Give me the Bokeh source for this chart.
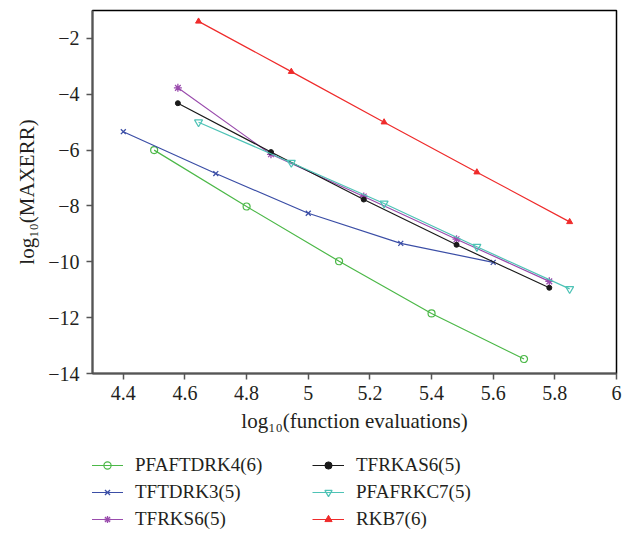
from bokeh.plotting import figure
from bokeh.models import Legend, LegendItem, FixedTicker
from bokeh.layouts import column
from bokeh.embed import file_html
from bokeh.resources import INLINE

# Data (log10 function evaluations, log10 MAXERR)
pfaftdrk4_x = [4.50, 4.80, 5.10, 5.40, 5.70]
pfaftdrk4_y = [-6.00, -8.02, -9.98, -11.85, -13.48]

tftdrk3_x = [4.40, 4.70, 5.00, 5.30, 5.60]
tftdrk3_y = [-5.34, -6.84, -8.26, -9.34, -10.02]

tfrks6_x = [4.577, 4.879, 5.180, 5.481, 5.782]
tfrks6_y = [-3.77, -6.15, -7.66, -9.19, -10.70]

tfrkas6_x = [4.577, 4.879, 5.180, 5.481, 5.782]
tfrkas6_y = [-4.32, -6.07, -7.77, -9.39, -10.93]

pfafrkc7_x = [4.644, 4.945, 5.246, 5.547, 5.848]
pfafrkc7_y = [-5.00, -6.45, -7.91, -9.46, -10.97]

rkb7_x = [4.644, 4.945, 5.246, 5.547, 5.848]
rkb7_y = [-1.39, -3.19, -5.00, -6.79, -8.57]

labels = ["PFAFTDRK4(6)", "TFTDRK3(5)", "TFRKS6(5)", "TFRKAS6(5)", "PFAFRKC7(5)", "RKB7(6)"]
x_ticks = [4.4, 4.6, 4.8, 5.0, 5.2, 5.4, 5.6, 5.8, 6.0]
y_ticks = [-14, -12, -10, -8, -6, -4, -2]

FONT = "Liberation Serif"
TXT = "#231f20"

series = [
    (pfaftdrk4_x, pfaftdrk4_y, "#4cb848", dict(marker="circle", size=7, fill_color=None, line_width=1.2)),
    (tftdrk3_x, tftdrk3_y, "#3b4ea6", dict(marker="x", size=7, line_width=1.3)),
    (tfrks6_x, tfrks6_y, "#9a4cad", dict(marker="asterisk", size=8, line_width=1.3)),
    (tfrkas6_x, tfrkas6_y, "#1a1a1a", dict(marker="circle", size=5, line_width=1)),
    (pfafrkc7_x, pfafrkc7_y, "#4ec3b6", dict(marker="inverted_triangle", size=8, fill_color=None, line_width=1.2)),
    (rkb7_x, rkb7_y, "#ef2b2b", dict(marker="triangle", size=6, line_width=1)),
]


def draw(fig):
    rends = []
    for xs, ys, col, mk in series:
        ln = fig.line(xs, ys, color=col, line_width=1.2)
        kw = dict(mk)
        kw.setdefault("fill_color", col)
        sc = fig.scatter(xs, ys, line_color=col, **kw)
        rends.append([ln, sc])
    return rends


p = figure(frame_width=524, frame_height=363, x_range=(4.3, 6.0), y_range=(-14, -1),
           output_backend="svg", toolbar_location=None,
           min_border_left=92, min_border_top=10, min_border_right=8, min_border_bottom=67)
p.xgrid.visible = False
p.ygrid.visible = False
p.outline_line_color = "black"
p.outline_line_width = 1.5

for ax in (p.xaxis[0], p.yaxis[0]):
    ax.axis_line_color = "#555555"
    ax.axis_line_width = 2
    ax.major_tick_line_color = "#555555"
    ax.major_tick_line_width = 1.5
    ax.major_tick_out = 6
    ax.major_tick_in = 0
    ax.minor_tick_line_color = None
    ax.major_label_text_font = FONT
    ax.major_label_text_font_size = "20px"
    ax.major_label_text_color = TXT
    ax.axis_label_text_font = FONT
    ax.axis_label_text_font_size = "21px"
    ax.axis_label_text_font_style = "normal"
    ax.axis_label_text_color = TXT

p.xaxis.ticker = FixedTicker(ticks=x_ticks)
p.yaxis.ticker = FixedTicker(ticks=y_ticks)
p.xaxis.major_label_overrides = {4.4: "4.4", 4.6: "4.6", 4.8: "4.8", 5.0: "5", 5.2: "5.2",
                                 5.4: "5.4", 5.6: "5.6", 5.8: "5.8", 6.0: "6"}
p.yaxis.major_label_overrides = {v: "\u2212" + str(abs(v)) for v in y_ticks}
p.xaxis.axis_label = "log\u2081\u2080(function evaluations)"
p.yaxis.axis_label = "log\u2081\u2080(MAXERR)"
p.xaxis.major_label_standoff = 6
p.yaxis.major_label_standoff = 7
p.xaxis.axis_label_standoff = 6
p.yaxis.axis_label_standoff = 6

draw(p)

# Legend panel below the chart (same series styles; data lie outside this panel's ranges)
lg = figure(width=624, height=93, x_range=(0, 1), y_range=(0, 1),
            output_backend="svg", toolbar_location=None,
            x_axis_location=None, y_axis_location=None,
            min_border=0, min_border_left=0, min_border_right=0, min_border_top=0, min_border_bottom=0)
lg.outline_line_color = None
lg.xgrid.visible = False
lg.ygrid.visible = False
lr = draw(lg)

items = [LegendItem(label=lab, renderers=r) for lab, r in zip(labels, lr)]
legend = Legend(items=items, nrows=3, orientation="vertical", location=(-1, 3),
                label_text_font=FONT, label_text_font_size="19px", label_text_color=TXT,
                glyph_width=32, glyph_height=18, label_standoff=12, label_width=172,
                label_height=18, spacing=5, padding=0, margin=0,
                border_line_color=None, background_fill_alpha=0)
lg.add_layout(legend, "center")

layout = column(p, lg, spacing=0)
open("out.html", "w").write(file_html(layout, INLINE))
